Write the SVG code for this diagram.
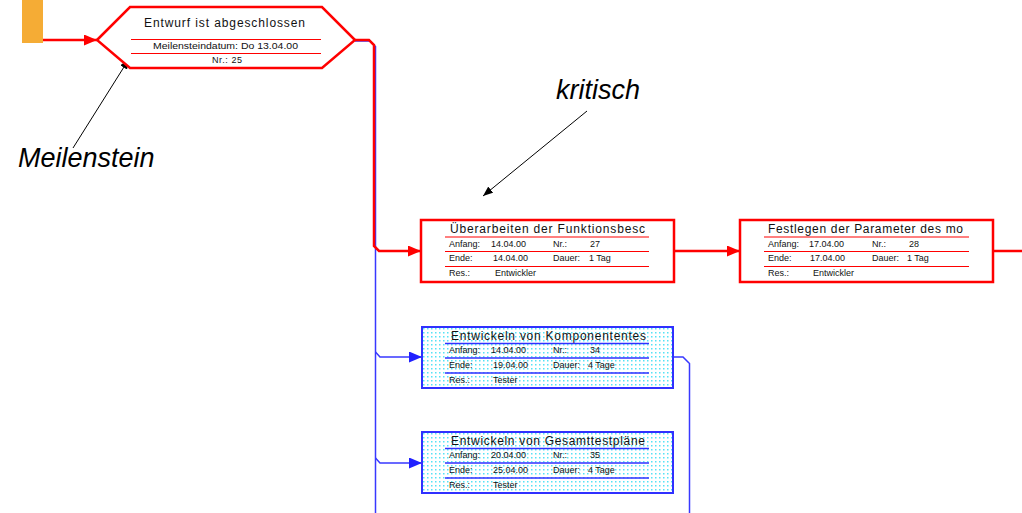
<svg xmlns="http://www.w3.org/2000/svg" width="1022" height="513" viewBox="0 0 1022 513">
<style>
text{font-family:"Liberation Sans",Arial,sans-serif;fill:#111}
.ttl{font-size:12px}
.sm{font-size:9px}
.ann{font-size:27px;font-style:italic;fill:#000}
.rbox{fill:#fff;stroke:#f00;stroke-width:2.5}
.bbox{fill:url(#dots);stroke:#3030ff;stroke-width:2}
.rl{stroke:#f00;stroke-width:1.2}
.bl{stroke:#3030ff;stroke-width:1.6}
.rc{fill:none;stroke:#f00;stroke-width:2.5}
.bc{fill:none;stroke:#3838ff;stroke-width:1.5}
.ac{fill:none;stroke:#000;stroke-width:1}
</style>
<defs>
<pattern id="dots" width="4" height="4" patternUnits="userSpaceOnUse"><rect width="4" height="4" fill="#fff"/><rect x="1" y="1" width="1.5" height="1.5" fill="#55e2f6"/></pattern>
<marker id="ra" markerUnits="userSpaceOnUse" markerWidth="13" markerHeight="11" refX="13" refY="5.5" orient="auto"><path d="M0,0 L13,5.5 L0,11 z" fill="#f00"/></marker>
<marker id="ba" markerUnits="userSpaceOnUse" markerWidth="13" markerHeight="11" refX="13" refY="5.5" orient="auto"><path d="M0,0 L13,5.5 L0,11 z" fill="#2020ff"/></marker>
<marker id="ka" markerUnits="userSpaceOnUse" markerWidth="10" markerHeight="8" refX="10" refY="4" orient="auto"><path d="M0,0 L10,4 L0,8 z" fill="#000"/></marker>
</defs>
<rect width="1022" height="513" fill="#fff"/>

<rect id="start" x="22" y="0" width="21" height="43" fill="#f5ac35"/>

<g id="connectors">
<path class="bc" d="M355,41 H370 L375.5,46.5 V513"/>
<path class="rc" d="M43,40 H97" marker-end="url(#ra)"/>
<path class="rc" d="M355,40 H369 L374,45 V246 L379,251 H421" marker-end="url(#ra)"/>
<path class="rc" d="M674,251 H740" marker-end="url(#ra)"/>
<path class="rc" d="M993,251 H1022"/>
<path class="bc" d="M375.5,352 L380,357 H422" marker-end="url(#ba)"/>
<path class="bc" d="M375.5,458 L380,463 H422" marker-end="url(#ba)"/>
<path class="bc" d="M673,357 H683 L689.5,363.5 V513"/>
<path class="ac" d="M73,148 L129,59" marker-end="url(#ka)"/>
<path class="ac" d="M587,111 L483,196" marker-end="url(#ka)"/>
</g>

<g id="milestone">
<polygon points="97,40 130,7 322,7 355,40 322,68 130,68" fill="#fff" stroke="#f00" stroke-width="2.5"/>
<text class="ttl" x="144" y="27" textLength="161" lengthAdjust="spacing">Entwurf ist abgeschlossen</text>
<line class="rl" x1="131" y1="39.5" x2="321" y2="39.5"/>
<text class="sm" x="153" y="48.5" textLength="145" lengthAdjust="spacingAndGlyphs">Meilensteindatum: Do 13.04.00</text>
<line class="rl" x1="131" y1="53.5" x2="321" y2="53.5"/>
<text class="sm" x="212" y="63" textLength="30" lengthAdjust="spacing">Nr.: 25</text>
</g>

<g id="task27" transform="translate(421,220)">
<rect class="rbox" x="0" y="0" width="253" height="62"/>
<text class="ttl" x="29" y="13" textLength="195" lengthAdjust="spacing">Überarbeiten der Funktionsbesc</text>
<line class="rl" x1="24" y1="17" x2="228" y2="17"/>
<text class="sm" x="28" y="26.5">Anfang:</text><text class="sm" x="70" y="26.5">14.04.00</text><text class="sm" x="132" y="26.5">Nr.:</text><text class="sm" x="169" y="26.5">27</text>
<line class="rl" x1="24" y1="31.5" x2="228" y2="31.5"/>
<text class="sm" x="28" y="41">Ende:</text><text class="sm" x="72" y="41">14.04.00</text><text class="sm" x="132" y="41">Dauer:</text><text class="sm" x="168" y="41">1 Tag</text>
<line class="rl" x1="24" y1="46.5" x2="228" y2="46.5"/>
<text class="sm" x="28" y="56">Res.:</text><text class="sm" x="74" y="56">Entwickler</text>
</g>

<g id="task28" transform="translate(740,220)">
<rect class="rbox" x="0" y="0" width="253" height="62"/>
<text class="ttl" x="28" y="13" textLength="195" lengthAdjust="spacing">Festlegen der Parameter des mo</text>
<line class="rl" x1="24" y1="17" x2="229" y2="17"/>
<text class="sm" x="28" y="26.5">Anfang:</text><text class="sm" x="69" y="26.5">17.04.00</text><text class="sm" x="132" y="26.5">Nr.:</text><text class="sm" x="169" y="26.5">28</text>
<line class="rl" x1="24" y1="31.5" x2="229" y2="31.5"/>
<text class="sm" x="28" y="41">Ende:</text><text class="sm" x="70" y="41">17.04.00</text><text class="sm" x="132" y="41">Dauer:</text><text class="sm" x="167" y="41">1 Tag</text>
<line class="rl" x1="24" y1="46.5" x2="229" y2="46.5"/>
<text class="sm" x="28" y="56">Res.:</text><text class="sm" x="73" y="56">Entwickler</text>
</g>

<g id="task34" transform="translate(422,327)">
<rect class="bbox" x="0" y="0" width="251" height="61"/>
<text class="ttl" x="29" y="12.5" textLength="195" lengthAdjust="spacing">Entwickeln von Komponententes</text>
<line class="bl" x1="23" y1="16.5" x2="227" y2="16.5"/>
<text class="sm" x="27" y="26">Anfang:</text><text class="sm" x="69" y="26">14.04.00</text><text class="sm" x="131" y="26">Nr.:</text><text class="sm" x="168" y="26">34</text>
<line class="bl" x1="23" y1="31" x2="227" y2="31"/>
<text class="sm" x="27" y="40.5">Ende:</text><text class="sm" x="71" y="40.5">19.04.00</text><text class="sm" x="131" y="40.5">Dauer:</text><text class="sm" x="166" y="40.5">4 Tage</text>
<line class="bl" x1="23" y1="46" x2="227" y2="46"/>
<text class="sm" x="27" y="55.5">Res.:</text><text class="sm" x="71" y="55.5">Tester</text>
</g>

<g id="task35" transform="translate(422,432)">
<rect class="bbox" x="0" y="0" width="251" height="61"/>
<text class="ttl" x="29" y="12.5" textLength="194" lengthAdjust="spacing">Entwickeln von Gesamttestpläne</text>
<line class="bl" x1="23" y1="16.5" x2="227" y2="16.5"/>
<text class="sm" x="27" y="26">Anfang:</text><text class="sm" x="69" y="26">20.04.00</text><text class="sm" x="131" y="26">Nr.:</text><text class="sm" x="168" y="26">35</text>
<line class="bl" x1="23" y1="31" x2="227" y2="31"/>
<text class="sm" x="27" y="40.5">Ende:</text><text class="sm" x="71" y="40.5">25.04.00</text><text class="sm" x="131" y="40.5">Dauer:</text><text class="sm" x="166" y="40.5">4 Tage</text>
<line class="bl" x1="23" y1="46" x2="227" y2="46"/>
<text class="sm" x="27" y="55.5">Res.:</text><text class="sm" x="71" y="55.5">Tester</text>
</g>

<g id="label-meilenstein"><text class="ann" x="18" y="167">Meilenstein</text></g>
<g id="label-kritisch"><text class="ann" x="556" y="99">kritisch</text></g>
</svg>
